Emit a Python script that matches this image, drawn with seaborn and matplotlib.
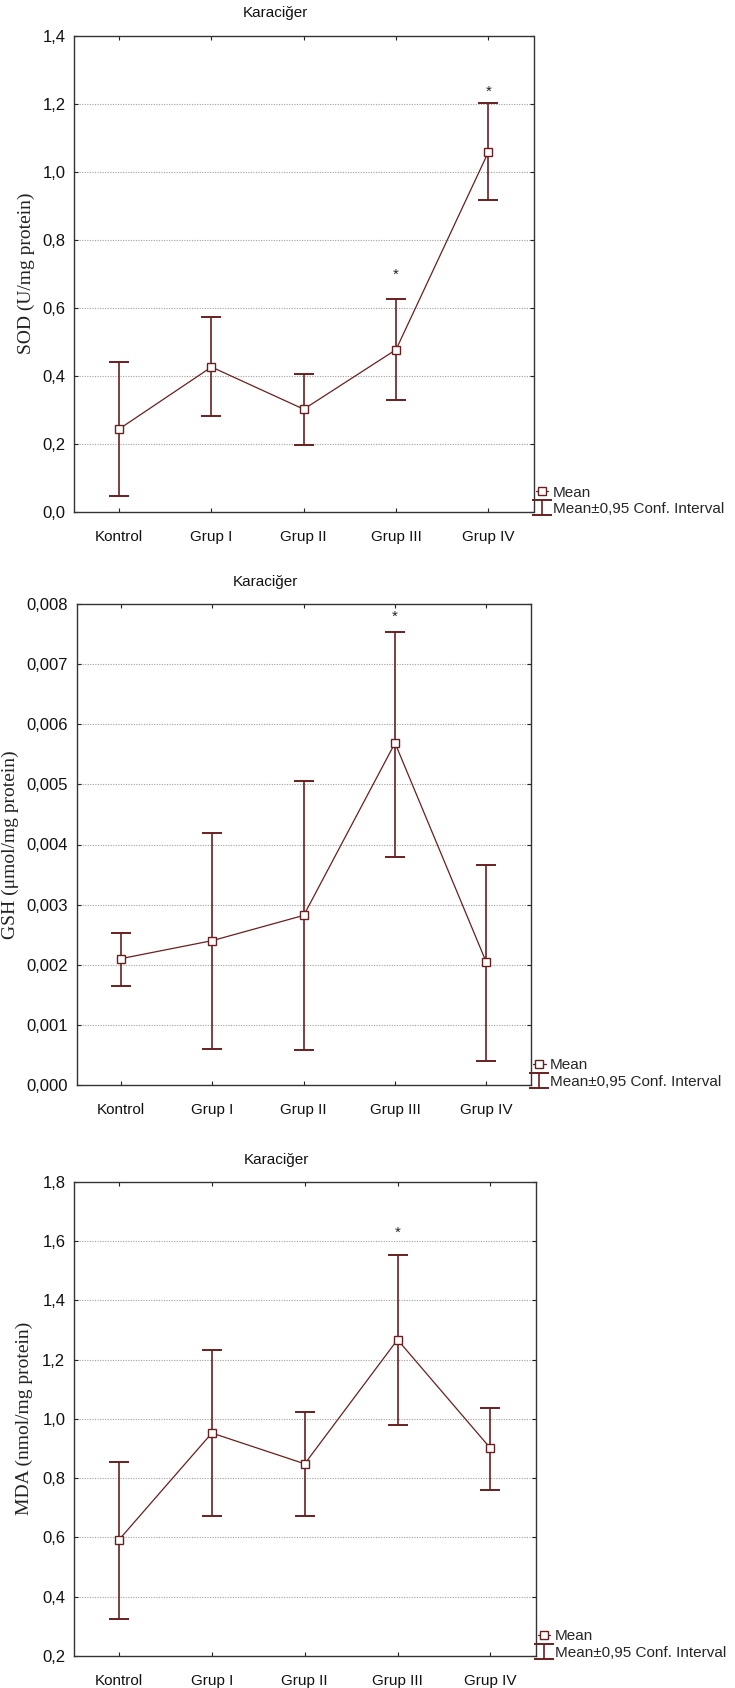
import matplotlib
matplotlib.use("Agg")
import matplotlib.pyplot as plt
from matplotlib.lines import Line2D
import seaborn as sns
import pandas as pd
import numpy as np

# ---------------- data ----------------
groups = ["Kontrol", "Grup I", "Grup II", "Grup III", "Grup IV"]
title = "Karaciğer"

sod_mean = [0.244, 0.426, 0.302, 0.477, 1.057]
sod_low = [0.048, 0.283, 0.197, 0.328, 0.918]
sod_high = [0.442, 0.574, 0.406, 0.625, 1.201]
sod_star = {3: 0.698, 4: 1.235}
sod_ticks = [0.0, 0.2, 0.4, 0.6, 0.8, 1.0, 1.2, 1.4]
sod_ticklabels = ["0,0", "0,2", "0,4", "0,6", "0,8", "1,0", "1,2", "1,4"]

gsh_mean = [0.00210, 0.00240, 0.00282, 0.00569, 0.00204]
gsh_low = [0.00165, 0.00060, 0.00058, 0.00380, 0.00039]
gsh_high = [0.00253, 0.00419, 0.00505, 0.00754, 0.00366]
gsh_star = {3: 0.0078}
gsh_ticks = [0.000, 0.001, 0.002, 0.003, 0.004, 0.005, 0.006, 0.007, 0.008]
gsh_ticklabels = ["0,000", "0,001", "0,002", "0,003", "0,004", "0,005",
                  "0,006", "0,007", "0,008"]

mda_mean = [0.592, 0.952, 0.848, 1.267, 0.901]
mda_low = [0.323, 0.673, 0.673, 0.980, 0.758]
mda_high = [0.854, 1.233, 1.023, 1.554, 1.037]
mda_star = {3: 1.627}
mda_ticks = [0.2, 0.4, 0.6, 0.8, 1.0, 1.2, 1.4, 1.6, 1.8]
mda_ticklabels = ["0,2", "0,4", "0,6", "0,8", "1,0", "1,2", "1,4", "1,6", "1,8"]

ylabels = ["SOD (U/mg protein)", "GSH (μmol/mg protein)", "MDA (nmol/mg protein)"]
legend_labels = ["Mean", "Mean±0,95 Conf. Interval"]

# ---------------- style ----------------
sns.set_theme(style="white")
plt.rcParams["font.family"] = ["Liberation Sans", "DejaVu Sans"]

COL = "#6a1f1f"
W, H = 735, 1688
fig = plt.figure(figsize=(W / 100, H / 100), dpi=100)

panels = [
    dict(mean=sod_mean, low=sod_low, high=sod_high, star=sod_star,
         ticks=sod_ticks, tl=sod_ticklabels, ylabel=ylabels[0],
         box=(74, 35.5, 533.5, 512), ylx=26, tx=275),
    dict(mean=gsh_mean, low=gsh_low, high=gsh_high, star=gsh_star,
         ticks=gsh_ticks, tl=gsh_ticklabels, ylabel=ylabels[1],
         box=(76.5, 604.3, 531, 1084.7), ylx=10, tx=265),
    dict(mean=mda_mean, low=mda_low, high=mda_high, star=mda_star,
         ticks=mda_ticks, tl=mda_ticklabels, ylabel=ylabels[2],
         box=(73.6, 1181.8, 535.8, 1655.8), ylx=24, tx=276),
]

for p in panels:
    l, t, r, b = p["box"]
    ax = fig.add_axes([l / W, 1 - b / H, (r - l) / W, (b - t) / H])
    df = pd.DataFrame({"pos": np.arange(len(groups)), "group": groups,
                       "mean": p["mean"], "low": p["low"], "high": p["high"]})

    # horizontal dotted grid
    for yv in p["ticks"][1:-1]:
        ax.axhline(yv, color="#a0a0a0", lw=0.8, ls=(0, (1, 1.3)), zorder=0)

    yerr = np.vstack([df["mean"] - df["low"], df["high"] - df["mean"]])
    eb = ax.errorbar(df["pos"], df["mean"], yerr=yerr, fmt="none",
                     ecolor=COL, elinewidth=1.2, capsize=7, capthick=1.4,
                     zorder=2)
    sns.lineplot(data=df, x="pos", y="mean", ax=ax, color=COL, lw=0.9,
                 marker="s", markersize=5.5, markerfacecolor="white",
                 markeredgecolor=COL, markeredgewidth=1.0, zorder=3,
                 legend=False)

    for k, v in p["star"].items():
        ax.text(k, v, "*", ha="center", va="center", fontsize=11,
                color="#222222")

    ax.set_xlim(-0.49, 4.49)
    ax.set_ylim(p["ticks"][0], p["ticks"][-1])
    ax.set_xticks(df["pos"])
    ax.set_xticklabels(groups, fontsize=11, color="#111111")
    ax.set_yticks(p["ticks"])
    ax.set_yticklabels(p["tl"], fontsize=12, color="#111111")
    ax.set_xlabel("")
    ax.set_ylabel("")
    ax.tick_params(axis="both", direction="in", length=3, width=0.8,
                   top=True, right=True, left=True, bottom=True,
                   colors="#222222", labelcolor="#111111")
    ax.tick_params(axis="x", pad=13)
    ax.tick_params(axis="y", pad=6)
    for s in ax.spines.values():
        s.set_color("#333333")
        s.set_linewidth(1.0)

    fig.text(p["ylx"] / W, 1 - ((t + b) / 2) / H, p["ylabel"], rotation=90,
             ha="center", va="center", fontsize=14,
             family=["Liberation Serif", "DejaVu Serif"], color="#222222")
    fig.text(p["tx"] / W, 1 - (t - 22) / H, title, ha="center", va="center",
             fontsize=11, color="#111111")

    mean_handle = Line2D([], [], color=COL, lw=0.9, marker="s", markersize=5.5,
                         markerfacecolor="white", markeredgecolor=COL)
    ax.legend([mean_handle, eb], legend_labels, loc="lower left",
              bbox_to_anchor=(0.995, -0.018), frameon=False, fontsize=11,
              handlelength=0.8, handletextpad=0.3, labelspacing=0.15,
              borderaxespad=0.2, borderpad=0.1)

fig.savefig("out.png", dpi=100)
